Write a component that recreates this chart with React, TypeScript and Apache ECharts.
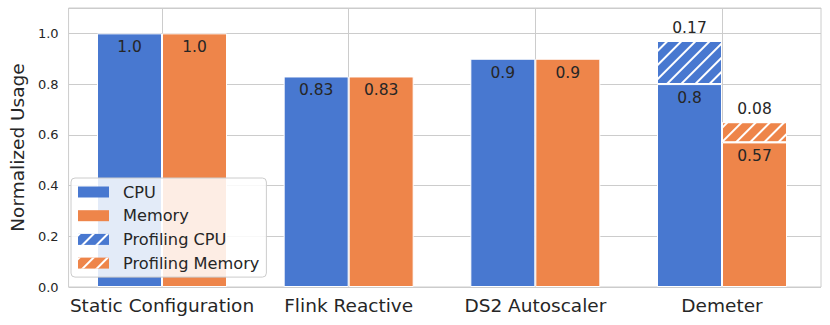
import React, { useEffect, useRef } from 'react';
import * as echarts from 'echarts';

const categories = ['Static Configuration', 'Flink Reactive', 'DS2 Autoscaler', 'Demeter'];
const cpuValues = [1.0, 0.83, 0.9, 0.8];
const memoryValues = [1.0, 0.83, 0.9, 0.57];
const profilingCpuValues = [null, null, null, 0.17];
const profilingMemoryValues = [null, null, null, 0.08];
const cpuLabels = ['1.0', '0.83', '0.9', '0.8'];
const memoryLabels = ['1.0', '0.83', '0.9', '0.57'];
const profilingCpuLabels = ['', '', '', '0.17'];
const profilingMemoryLabels = ['', '', '', '0.08'];
const seriesNames = ['CPU', 'Memory', 'Profiling CPU', 'Profiling Memory'];
const yMin = 0;
const yMax = 1.1;
const yInterval = 0.2;

const BLUE = '#4878d0';
const ORANGE = '#ee854a';
const TEXT = '#262626';
const GRID = '#cccccc';
const FONT = 'DejaVu Sans';

const hatch = {
  symbol: 'rect',
  symbolSize: 1,
  rotation: -Math.PI / 4,
  dashArrayX: [1, 0],
  dashArrayY: [1.1, 7.4],
  color: 'rgba(255,255,255,1)',
};

export default function App() {
  const ref = useRef<HTMLDivElement>(null);
  useEffect(() => {
    if (!ref.current) return;
    const chart = echarts.init(ref.current, undefined, { renderer: 'svg' });
    const gridTop = 8;
    const gridHeight = 279;
    const labelStyle = { fontSize: 15.5, color: TEXT, fontFamily: FONT };
    const option: any = {
      animation: false,
      backgroundColor: '#ffffff',
      textStyle: { fontFamily: FONT },
      grid: [
        { left: 62, top: gridTop, width: 759, height: gridHeight, show: true, borderColor: GRID, borderWidth: 1, backgroundColor: 'transparent', containLabel: false },
        { left: 68.67, top: gridTop, width: 746.67, height: gridHeight, containLabel: false },
      ],
      xAxis: [
        { gridIndex: 0, type: 'value', min: 0, max: 1, show: false },
        {
          gridIndex: 1, type: 'category', data: categories, position: 'bottom',
          axisLine: { show: false }, axisTick: { show: false }, splitLine: { show: false },
          axisLabel: { interval: 0, fontSize: 18.5, color: TEXT, margin: 9, fontFamily: FONT },
        },
        {
          gridIndex: 1, type: 'category', boundaryGap: false,
          data: ['0', '1', '2', '3', '4', '5', '6', '7', '8'],
          position: 'top',
          axisLine: { show: false }, axisTick: { show: false }, axisLabel: { show: false },
          splitLine: { show: true, interval: (i: number) => i % 2 === 1, lineStyle: { color: GRID, width: 1 } },
        },
      ],
      yAxis: [
        {
          gridIndex: 0, type: 'value', min: yMin, max: yMax, interval: yInterval,
          name: 'Normalized Usage', nameLocation: 'middle', nameGap: 38,
          nameTextStyle: { fontSize: 18.5, color: TEXT, fontFamily: FONT },
          axisLine: { show: false }, axisTick: { show: false },
          axisLabel: {
            fontSize: 13, color: TEXT, margin: 10, fontFamily: FONT,
            showMaxLabel: false,
            formatter: (v: number) => (Math.abs(v / yInterval - Math.round(v / yInterval)) < 1e-6 ? v.toFixed(1) : ''),
          },
          splitLine: { show: true, lineStyle: { color: GRID, width: 1 } },
        },
        { gridIndex: 1, type: 'value', min: yMin, max: yMax, show: false },
      ],
      legend: {
        data: seriesNames,
        orient: 'vertical',
        left: 71,
        top: 178,
        itemWidth: 31,
        itemHeight: 11,
        itemGap: 7.7,
        padding: [6, 7, 6, 7],
        backgroundColor: 'rgba(255,255,255,0.85)',
        borderColor: GRID,
        borderWidth: 1,
        borderRadius: 4,
        icon: 'rect',
        itemStyle: { borderWidth: 0 },
        textStyle: { fontSize: 16.2, color: TEXT, fontFamily: FONT, padding: [0, 0, 0, 9] },
      },
      series: [
        {
          name: seriesNames[0], type: 'bar', xAxisIndex: 1, yAxisIndex: 1, stack: 'cpu',
          barWidth: 65, barGap: '0%', data: cpuValues,
          itemStyle: { color: BLUE, borderColor: '#ffffff', borderWidth: 1 },
          label: { show: true, position: 'insideTop', distance: 6, ...labelStyle, formatter: (p: any) => cpuLabels[p.dataIndex] },
        },
        {
          name: seriesNames[1], type: 'bar', xAxisIndex: 1, yAxisIndex: 1, stack: 'mem',
          barWidth: 65, barGap: '0%', data: memoryValues,
          itemStyle: { color: ORANGE, borderColor: '#ffffff', borderWidth: 1 },
          label: { show: true, position: 'insideTop', distance: 6, ...labelStyle, formatter: (p: any) => memoryLabels[p.dataIndex] },
        },
        {
          name: seriesNames[2], type: 'bar', xAxisIndex: 1, yAxisIndex: 1, stack: 'cpu',
          barWidth: 65, barGap: '0%', data: profilingCpuValues,
          itemStyle: { color: BLUE, borderColor: '#ffffff', borderWidth: 1, decal: hatch },
          label: { show: true, position: 'top', distance: 5, ...labelStyle, formatter: (p: any) => profilingCpuLabels[p.dataIndex] },
        },
        {
          name: seriesNames[3], type: 'bar', xAxisIndex: 1, yAxisIndex: 1, stack: 'mem',
          barWidth: 65, barGap: '0%', data: profilingMemoryValues,
          itemStyle: { color: ORANGE, borderColor: '#ffffff', borderWidth: 1, decal: hatch },
          label: { show: true, position: 'top', distance: 5, ...labelStyle, formatter: (p: any) => profilingMemoryLabels[p.dataIndex] },
        },
      ],
    };
    chart.setOption(option);
    return () => chart.dispose();
  }, []);
  return <div ref={ref} style={{ position: 'fixed', left: 0, top: 0, width: 830, height: 325 }} />;
}
